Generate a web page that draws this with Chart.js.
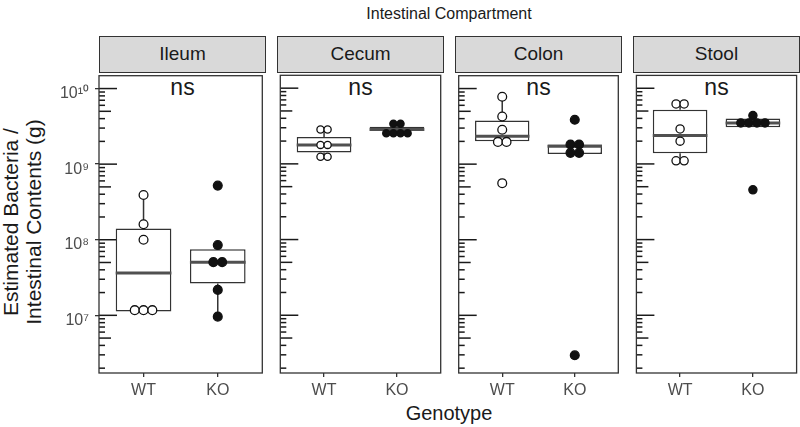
<!DOCTYPE html>
<html>
<head>
<meta charset="utf-8">
<script src="https://cdn.jsdelivr.net/npm/chart.js@4.4.0/dist/chart.umd.min.js"></script>
<style>
  body { margin: 0; width: 800px; height: 427px; background: #fff; position: relative; overflow: hidden;
         font-family: "Liberation Sans", Arial, sans-serif; color: #1a1a1a; }
  canvas { position: absolute; }
  .txt { position: absolute; white-space: nowrap; text-align: center; }
  .strip { position: absolute; top: 36px; height: 37px; box-sizing: border-box; background: #d9d9d9;
           border: 1.3px solid #333; text-align: center; font-size: 19px; line-height: 34px; }
</style>
</head>
<body>
<div class="txt" style="left:249px; width:400px; top:5px; font-size:16px; line-height:17px;">Intestinal Compartment</div>
<div class="txt" style="left:249px; width:400px; top:403px; font-size:20px; line-height:20px;">Genotype</div>
<div class="txt" style="left:-137px; top:198px; width:320px; height:48px; font-size:21px; line-height:23px; transform:rotate(-90deg);">Estimated Bacteria /<br>Intestinal Contents (g)</div>

<script>
// ---- data ----
const compartments = ['Ileum', 'Cecum', 'Colon', 'Stool'];
const genotypes = ['WT', 'KO'];
const yTickValues = [1e7, 1e8, 1e9, 1e10];
const yTickLabels = ['10⁷', '10⁸', '10⁹', '10¹⁰'];
const testLabels = ['ns', 'ns', 'ns', 'ns'];

// estimated bacteria per g of contents, one value per mouse
const wtValues = [
  [3.9e8, 1.6e8, 1.0e8, 1.17e7, 1.17e7, 1.17e7],
  [2.85e9, 2.85e9, 1.78e9, 1.78e9, 1.24e9, 1.24e9],
  [7.8e9, 4.27e9, 2.85e9, 1.97e9, 1.97e9, 5.6e8],
  [6.2e9, 6.2e9, 2.9e9, 2.0e9, 1.1e9, 1.1e9]
];
const koValues = [
  [5.2e8, 8.5e7, 5.05e7, 5.05e7, 2.17e7, 9.6e6],
  [3.38e9, 3.38e9, 2.53e9, 2.53e9, 2.53e9, 2.53e9],
  [3.86e9, 1.82e9, 1.82e9, 1.41e9, 1.41e9, 2.96e6],
  [4.35e9, 3.48e9, 3.48e9, 3.48e9, 3.48e9, 4.55e8]
];

// boxplot summaries: [lower whisker, q1, median, q3, upper whisker]
const wtBox = [
  [1.12e7, 1.12e7, 3.63e7, 1.41e8, 3.9e8],
  [1.24e9, 1.41e9, 1.78e9, 2.27e9, 2.85e9],
  [2.01e9, 2.01e9, 2.34e9, 3.78e9, 7.8e9],
  [1.1e9, 1.38e9, 2.38e9, 5.2e9, 6.2e9]
];
const koBox = [
  [9.6e6, 2.64e7, 5.05e7, 7.46e7, 8.5e7],
  [2.53e9, 2.72e9, 2.85e9, 3.09e9, 3.38e9],
  [1.36e9, 1.36e9, 1.73e9, 1.82e9, 1.82e9],
  [3.06e9, 3.06e9, 3.48e9, 3.97e9, 4.35e9]
];

// ---- layout ----
const PANEL_LEFT = 99, PANEL_STEP = 178, PANEL_W = 167;
const PLOT_TOP = 72, PLOT_BOTTOM = 373;
const X_AXIS_H = 30, Y_AXIS_W = 49, PAD = 2;
const X_MIN = 0.4, X_MAX = 2.6;
const Y_MIN = Math.pow(10, 6.237), Y_MAX = Math.pow(10, 10.17);
const DOT_PX = [9, 7.4, 9, 8.4];
const LINE = '#333333';

Chart.defaults.font.family = '"Liberation Sans", Arial, sans-serif';

// centred dot stacking like geom_dotplot: equal values sit side by side
function dotOffsets(values, step) {
  const counts = {}, seen = {};
  values.forEach(v => counts[v] = (counts[v] || 0) + 1);
  return values.map(v => {
    seen[v] = (seen[v] === undefined) ? 0 : seen[v] + 1;
    return (seen[v] - (counts[v] - 1) / 2) * step;
  });
}

function noPadding(axis) {
  axis.paddingTop = 0;
  axis.paddingBottom = 0;
  axis.paddingLeft = 0;
  axis.paddingRight = 0;
}

const panelFrame = {
  id: 'panelFrame',
  afterDraw(chart) {
    const { ctx, chartArea: a } = chart;
    ctx.save();
    ctx.strokeStyle = LINE;
    ctx.lineWidth = 1.3;
    ctx.strokeRect(a.left, a.top, a.right - a.left, a.bottom - a.top);
    ctx.restore();
  }
};

// annotation_logticks on the left side of each panel
const logTicks = {
  id: 'logTicks',
  beforeDatasetsDraw(chart) {
    const { ctx, chartArea: a } = chart;
    const y = chart.scales.y;
    ctx.save();
    ctx.strokeStyle = '#1a1a1a';
    ctx.lineWidth = 1.5;
    for (let e = 6; e <= 10; e++) {
      for (let k = 1; k <= 9; k++) {
        const v = k * Math.pow(10, e);
        if (v < y.min || v > y.max) continue;
        const len = k === 1 ? 18 : (k === 5 ? 12 : 6);
        const py = y.getPixelForValue(v);
        ctx.beginPath();
        ctx.moveTo(a.left, py);
        ctx.lineTo(a.left + len, py);
        ctx.stroke();
      }
    }
    ctx.restore();
  }
};

function segment(x0, y0, x1, y1, width, color, order) {
  return {
    type: 'line',
    data: [{ x: x0, y: y0 }, { x: x1, y: y1 }],
    borderColor: color,
    borderWidth: width,
    pointRadius: 0,
    order
  };
}

compartments.forEach((name, i) => {
  const panelX = PANEL_LEFT + i * PANEL_STEP;
  const yW = i === 0 ? Y_AXIS_W : 0;

  const strip = document.createElement('div');
  strip.className = 'strip';
  strip.style.left = panelX + 'px';
  strip.style.width = PANEL_W + 'px';
  strip.textContent = name;
  document.body.appendChild(strip);

  const ns = document.createElement('div');
  ns.className = 'txt';
  ns.style.cssText += `left:${panelX}px; width:${PANEL_W}px; top:76px; font-size:23px; line-height:23px;`;
  ns.textContent = testLabels[i];
  document.body.appendChild(ns);

  const canvas = document.createElement('canvas');
  canvas.width = PANEL_W + 2 * PAD + yW;
  canvas.height = (PLOT_BOTTOM - PLOT_TOP) + PAD + X_AXIS_H;
  canvas.style.left = (panelX - PAD - yW) + 'px';
  canvas.style.top = (PLOT_TOP - PAD) + 'px';
  document.body.appendChild(canvas);

  const step = DOT_PX[i] / (PANEL_W / (X_MAX - X_MIN));
  const boxes = [wtBox[i], koBox[i]];
  const datasets = [];

  // boxes (q1..q3) as one floating-bar dataset
  datasets.push({
    type: 'bar',
    data: boxes.map((b, g) => ({ x: g + 1, y: [b[1], b[3]] })),
    backgroundColor: '#ffffff',
    borderColor: '#333333',
    borderWidth: 1.5,
    borderSkipped: false,
    grouped: false,
    barPercentage: 0.75,
    categoryPercentage: 1,
    order: 2
  });

  [wtValues[i], koValues[i]].forEach((vals, g) => {
    const c = g + 1;
    const box = boxes[g];
    const offs = dotOffsets(vals, step);
    datasets.push({
      type: 'scatter',
      data: vals.map((v, j) => ({ x: c + offs[j], y: v })),
      pointRadius: DOT_PX[i] / 2 - 0.1,
      pointBorderWidth: 1.3,
      pointBorderColor: '#111',
      pointBackgroundColor: g === 0 ? '#ffffff' : '#111',
      order: 0
    });
    datasets.push(segment(c - 0.375, box[2], c + 0.375, box[2], 3, '#505050', 1));
    datasets.push(segment(c, box[3], c, box[4], 1.5, '#333333', 3));
    datasets.push(segment(c, box[0], c, box[1], 1.5, '#333333', 3));
  });

  new Chart(canvas, {
    type: 'scatter',
    data: { datasets },
    options: {
      responsive: false,
      animation: false,
      events: [],
      layout: { padding: { left: PAD, right: PAD, top: PAD, bottom: 0 } },
      plugins: { legend: { display: false }, tooltip: { enabled: false } },
      scales: {
        x: {
          type: 'linear',
          min: X_MIN,
          max: X_MAX,
          offset: false,
          afterBuildTicks: axis => { axis.ticks = genotypes.map((_, k) => ({ value: k + 1 })); },
          afterFit: axis => { axis.height = X_AXIS_H; noPadding(axis); },
          ticks: {
            callback: v => genotypes[v - 1],
            color: '#4d4d4d',
            font: { size: 16 },
            padding: 4,
            maxRotation: 0
          },
          grid: { offset: false, drawOnChartArea: false, drawTicks: true, tickLength: 4, color: LINE, lineWidth: 1.3 },
          border: { display: false }
        },
        y: {
          type: 'logarithmic',
          display: i === 0,
          min: Y_MIN,
          max: Y_MAX,
          beginAtZero: false,
          afterBuildTicks: axis => { axis.ticks = yTickValues.map(v => ({ value: v })); },
          afterFit: axis => { axis.width = yW; noPadding(axis); },
          ticks: {
            callback: v => yTickLabels[yTickValues.indexOf(v)],
            color: '#4d4d4d',
            font: { size: 16 },
            padding: 6,
            labelOffset: 5
          },
          grid: { offset: false, drawOnChartArea: false, drawTicks: true, tickLength: 4, color: LINE, lineWidth: 1.3 },
          border: { display: false }
        }
      }
    },
    plugins: [logTicks, panelFrame]
  });
});
</script>
</body>
</html>
